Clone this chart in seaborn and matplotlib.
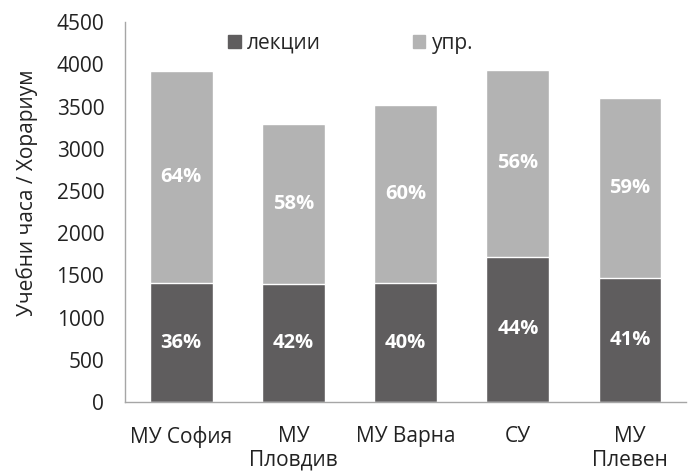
import numpy as np
import pandas as pd
import matplotlib
matplotlib.use("Agg")
import matplotlib.pyplot as plt
import seaborn as sns
from matplotlib.patches import Patch

# Data
universities = ["МУ София", "МУ\nПловдив", "МУ Варна", "СУ", "МУ\nПлевен"]
lectures = [1410, 1395, 1405, 1720, 1470]
exercises = [2510, 1905, 2120, 2215, 2130]
y_ticks = [0, 500, 1000, 1500, 2000, 2500, 3000, 3500, 4000, 4500]

dark = "#5f5d5e"
light = "#b3b3b3"

sns.set_theme(style="white")
plt.rcParams["font.family"] = ["Open Sans", "DejaVu Sans"]

df = pd.DataFrame({"uni": universities, "lec": lectures, "ex": exercises})
df["total"] = df["lec"] + df["ex"]

fig = plt.figure(figsize=(6.91, 4.73), dpi=100)
ax = fig.add_axes([0.181, 0.150, 0.812, 0.803])

# stacked bars: total first (light), lectures on top of it (dark)
sns.barplot(data=df, x="uni", y="total", color=light, width=0.56,
            saturation=1, edgecolor="white", linewidth=1, ax=ax)
sns.barplot(data=df, x="uni", y="lec", color=dark, width=0.56,
            saturation=1, edgecolor="white", linewidth=1, ax=ax)

# percentage labels, centred in each segment
for i, row in df.iterrows():
    p_lec = row["lec"] / row["total"] * 100
    p_ex = row["ex"] / row["total"] * 100
    ax.text(i, row["lec"] / 2, f"{p_lec:.0f}%", ha="center", va="center",
            color="white", fontsize=14.5, fontweight="bold")
    ax.text(i, row["lec"] + row["ex"] / 2, f"{p_ex:.0f}%", ha="center",
            va="center", color="white", fontsize=14.5, fontweight="bold")

ax.set_ylim(0, 4500)
ax.set_yticks(y_ticks)
ax.set_xlim(-0.5, len(universities) - 0.5)
ax.tick_params(axis="both", length=0, labelsize=15, colors="#222222")
ax.tick_params(axis="y", pad=15)
ax.tick_params(axis="x", pad=17)
ax.set_xlabel("")
ax.set_ylabel("Учебни часа / Хорариум", fontsize=15, color="#222222")
ax.yaxis.set_label_coords(-0.155, 0.55)

for side in ["top", "right"]:
    ax.spines[side].set_visible(False)
for side in ["left", "bottom"]:
    ax.spines[side].set_color("#a6a6a6")
    ax.spines[side].set_linewidth(1)

handles = [Patch(color=dark, label="лекции"), Patch(color=light, label="упр.")]
ax.legend(handles=handles, loc="center", bbox_to_anchor=(0.402, 0.945),
          ncol=2, frameon=False, fontsize=15, handlelength=0.6,
          handleheight=0.6, handletextpad=0.3, columnspacing=4.4)

fig.savefig("out.png", dpi=100)
